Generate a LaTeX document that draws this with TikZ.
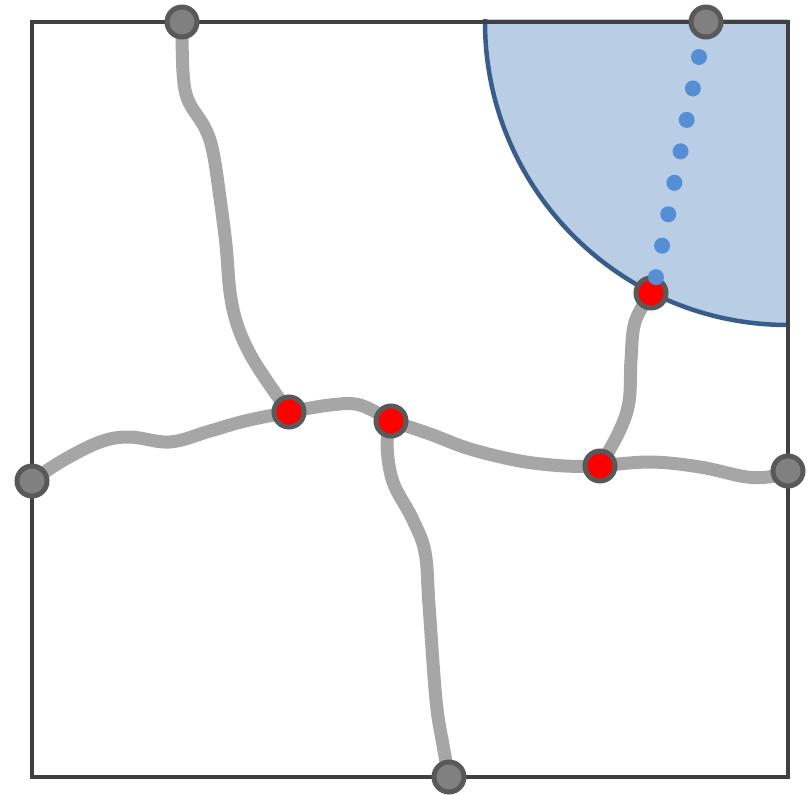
\documentclass[tikz,border=0pt]{standalone}
\definecolor{nodeg}{HTML}{808080}
\definecolor{nodeb}{HTML}{595959}
\definecolor{roadc}{HTML}{A6A6A6}
\definecolor{framec}{HTML}{404040}
\definecolor{zonef}{HTML}{B9CDE5}
\definecolor{zonee}{HTML}{385D8A}
\definecolor{dotc}{HTML}{558ED5}
\pgfdeclarelayer{bg}
\pgfdeclarelayer{roads}
\pgfsetlayers{bg,roads,main}
\begin{document}
\begin{tikzpicture}[x=1pt,y=-1pt,
  gnode/.style={circle,draw=nodeb,fill=nodeg,line width=5pt,minimum size=30pt,inner sep=0pt},
  rnode/.style={circle,draw=nodeb,fill=red,line width=5pt,minimum size=30pt,inner sep=0pt},
  road/.style={draw=roadc,line width=13pt,line cap=round,line join=round},
  frame/.style={draw=framec,line width=3.5pt}]
\useasboundingbox (0,0) rectangle (809,795);
% nodes
\node[gnode] (t1) at (182,22) {};
\node[gnode] (t2) at (706,22) {};
\node[gnode] (l) at (32,481) {};
\node[gnode] (r) at (788,471) {};
\node[gnode] (b) at (449,777) {};
\node[rnode] (a) at (289,412) {};
\node[rnode] (c) at (391,421) {};
\node[rnode] (d) at (600,466) {};
\node[rnode] (e) at (651,293) {};
% background: zone and frame
\begin{pgfonlayer}{bg}
  \begin{scope}
    \clip (482,19) rectangle (788,330);
    \fill[zonef] (788,22) circle[radius=303pt];
    \draw[zonee,line width=4.5pt] (788,22) circle[radius=303pt];
  \end{scope}
  \draw[frame] (32,22) rectangle (788,777);
\end{pgfonlayer}
% roads
\begin{pgfonlayer}{roads}
  \draw[road] plot[smooth,tension=0.6] coordinates {(t1.center) (183,72) (188,100) (205,128) (213,152) (220,198) (226,245) (230,292) (237,324) (250,354) (269,384) (a.center)};
  \draw[road] plot[smooth,tension=0.6] coordinates {(l.center) (62,461) (100,442) (130,437) (170,442) (210,431) (245,421) (a.center)};
  \draw[road] plot[smooth,tension=0.6] coordinates {(a.center) (330,405) (360,405) (c.center)};
  \draw[road] plot[smooth,tension=0.6] coordinates {(c.center) (430,434) (470,449) (520,461) (565,466) (d.center)};
  \draw[road] plot[smooth,tension=0.6] coordinates {(d.center) (650,462) (700,467) (747,477) (775,476) (r.center)};
  \draw[road] plot[smooth,tension=0.6] coordinates {(c.center) (387,445) (393,482) (412,518) (425,552) (429,605) (436,700) (443,745) (b.center)};
  \draw[road] plot[smooth,tension=0.6] coordinates {(d.center) (619,432) (629,402) (631,360) (635,322) (e.center)};
\end{pgfonlayer}
% dotted trace
\foreach \i in {0,...,7}
  \fill[dotc] ({699-6.15*\i},{57+31.45*\i}) circle[radius=8pt];
\end{tikzpicture}
\end{document}
